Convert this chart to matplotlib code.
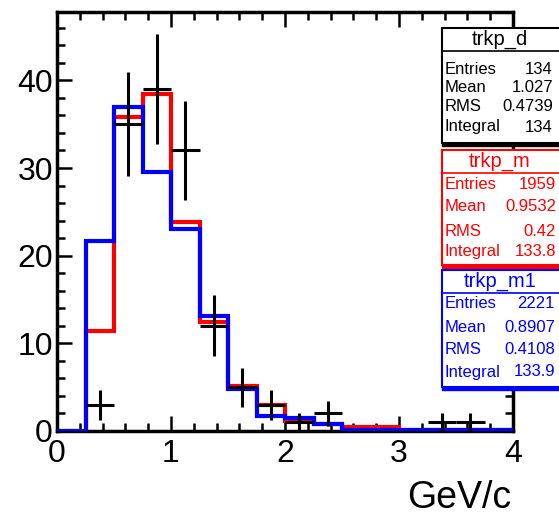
import numpy as np
import matplotlib.pyplot as plt
from matplotlib.patches import Rectangle
from matplotlib.ticker import MultipleLocator

plt.rcParams['font.family'] = ['Liberation Sans', 'DejaVu Sans']

# bin edges (GeV/c), 16 bins of 0.25
edges = np.linspace(0, 4, 17)

# data (trkp_d), counts per bin
data_counts = [0, 3, 35, 39, 32, 12, 5, 3, 1, 2, 0, 0, 0, 1, 1, 0]
# MC (trkp_m), normalised
mc_vals = [0, 11.4, 35.8, 38.5, 23.9, 12.4, 5.1, 3.0, 1.1, 0.8, 0.4, 0.4, 0.1, 0.1, 0.1, 0.1]
# MC (trkp_m1), normalised
mc1_vals = [0, 21.7, 37.0, 29.5, 23.0, 13.1, 4.8, 1.7, 1.5, 0.8, 0.15, 0.15, 0.15, 0.15, 0.15, 0.15]

stat_names = ['trkp_d', 'trkp_m', 'trkp_m1']
stat_colors = ['black', '#ff0000', '#0000ff']
stat_entries = ['134', '1959', '2221']
stat_mean = ['1.027', '0.9532', '0.8907']
stat_rms = ['0.4739', '0.42', '0.4108']
stat_integral = ['134', '133.8', '133.9']

W, H = 559, 520
fig = plt.figure(figsize=(W / 100, H / 100), dpi=100)
ax = fig.add_axes([57 / W, 1 - 431 / H, (513 - 57) / W, (431 - 12) / H])

ax.stairs(mc_vals, edges, baseline=0, color='#ff0000', lw=3, zorder=2)
ax.stairs(mc1_vals, edges, baseline=0, color='#0000ff', lw=3, zorder=3)

centers = 0.5 * (edges[:-1] + edges[1:])
dc = np.array(data_counts, dtype=float)
m = dc > 0
ax.errorbar(centers[m], dc[m], yerr=np.sqrt(dc[m]), xerr=0.125, fmt='none',
            ecolor='black', elinewidth=2.2, capsize=0, zorder=4)

ax.set_xlim(0, 4)
ax.set_ylim(0, 47.8)
ax.xaxis.set_major_locator(MultipleLocator(1))
ax.xaxis.set_minor_locator(MultipleLocator(0.2))
ax.yaxis.set_major_locator(MultipleLocator(10))
ax.yaxis.set_minor_locator(MultipleLocator(2))
ax.tick_params(which='both', direction='in', top=True, right=True, width=1.8)
ax.tick_params(which='major', length=11, labelsize=23)
ax.tick_params(which='minor', length=6)
ax.tick_params(axis='x', which='major', pad=6)
ax.tick_params(axis='y', which='major', pad=3)
for s in ax.spines.values():
    s.set_linewidth(2.5)

fig.text(511 / W, 1 - 498 / H, 'GeV/c', fontsize=27, ha='right', va='center')

# stats boxes
box_tops = [28, 150, 270]
box_bots = [143, 265, 387]
row_y = [[69, 87, 107, 127], [184, 207, 231, 251], [303, 327, 350, 372]]
val_right = [553, 556, 555]
for i in range(3):
    c = stat_colors[i]
    top, bot = box_tops[i], box_bots[i]
    fig.patches.append(Rectangle((441.5 / W, 1 - (bot + 3) / H), 140 / W, (bot - top) / H,
                                 transform=fig.transFigure, facecolor=c, edgecolor=c, zorder=5))
    fig.patches.append(Rectangle((441.5 / W, 1 - bot / H), 140 / W, (bot - top) / H,
                                 transform=fig.transFigure, facecolor='white', edgecolor=c,
                                 lw=1.5, zorder=6))
    fig.add_artist(plt.Line2D([441.5 / W, 1], [1 - (top + 23) / H] * 2, color=c, lw=1.2, zorder=7))
    fig.text(500 / W, 1 - (top + 11.5) / H, stat_names[i], color=c, fontsize=14.5,
             ha='center', va='center', zorder=8)
    labels = ['Entries', 'Mean', 'RMS', 'Integral']
    vals = [stat_entries[i], stat_mean[i], stat_rms[i], stat_integral[i]]
    for lab, v, yy in zip(labels, vals, row_y[i]):
        fig.text(445 / W, 1 - yy / H, lab, color=c, fontsize=12, ha='left', va='center', zorder=8)
        fig.text(val_right[i] / W, 1 - yy / H, v, color=c, fontsize=12, ha='right', va='center', zorder=8)

fig.savefig('out.png', dpi=100)
